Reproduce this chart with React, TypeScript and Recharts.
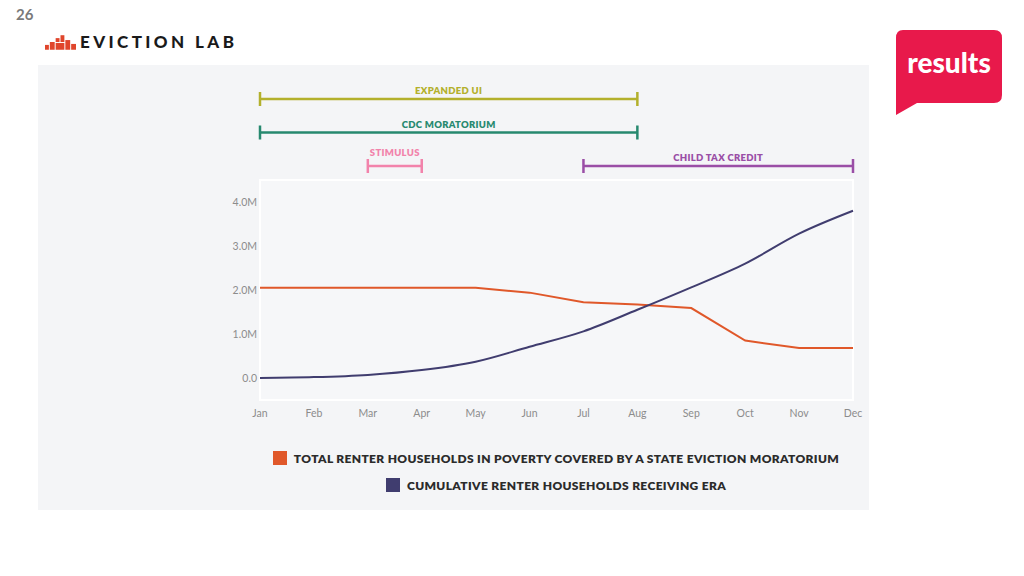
import React from 'react';
import {
  LineChart, Line, XAxis, YAxis, ReferenceArea,
} from 'recharts';

const MONTHS = ['Jan', 'Feb', 'Mar', 'Apr', 'May', 'Jun', 'Jul', 'Aug', 'Sep', 'Oct', 'Nov', 'Dec'];

// millions of households
const COVERED_BY_MORATORIUM = [2.05, 2.05, 2.05, 2.05, 2.05, 1.94, 1.72, 1.67, 1.59, 0.85, 0.68, 0.68];
const RECEIVING_ERA = [0.0, 0.02, 0.07, 0.18, 0.37, 0.71, 1.06, 1.55, 2.06, 2.6, 3.28, 3.8];

const Y_TICKS = [0, 1, 2, 3, 4];

const PROGRAMS = [
  { key: 'ui',      label: 'EXPANDED UI',      start: 'Jan', end: 'Aug', lane: 3, color: '#b3b02c' },
  { key: 'cdc',     label: 'CDC MORATORIUM',   start: 'Jan', end: 'Aug', lane: 2, color: '#27896f' },
  { key: 'stim',    label: 'STIMULUS',         start: 'Mar', end: 'Apr', lane: 1, color: '#f283ab' },
  { key: 'ctc',     label: 'CHILD TAX CREDIT', start: 'Jul', end: 'Dec', lane: 1, color: '#9a4ea6' },
];

// short bars get their title lifted clear of the end caps
const LABEL_LIFT: Record<string, number> = { stim: 5 };

const SERIES = [
  { key: 'covered', label: 'TOTAL RENTER HOUSEHOLDS IN POVERTY COVERED BY A STATE EVICTION MORATORIUM', color: '#e0582a' },
  { key: 'era',     label: 'CUMULATIVE RENTER HOUSEHOLDS RECEIVING ERA',                               color: '#403d6f' },
];

const FONT = 'Lato, "Open Sans", sans-serif';

const data = MONTHS.map((m, i) => {
  const row: Record<string, any> = {
    month: m,
    covered: COVERED_BY_MORATORIUM[i],
    era: RECEIVING_ERA[i],
  };
  PROGRAMS.forEach(p => {
    const s = MONTHS.indexOf(p.start);
    const e = MONTHS.indexOf(p.end);
    row[p.key] = i >= s && i <= e ? p.lane : null;
  });
  return row;
});

const fmtM = (v: number) => (v === 0 ? '0.0' : `${v.toFixed(1)}M`);

function EvictionLabLogo() {
  return (
    <div style={{ position: 'absolute', left: 45, top: 31, display: 'flex', alignItems: 'center' }}>
      <svg width={31} height={16} viewBox="0 0 32 16">
        <g fill="#e0452b">
          <rect x={0} y={11} width={4} height={5} />
          <rect x={5} y={8} width={5} height={8} />
          <rect x={11} y={4} width={4} height={4} />
          <rect x={11} y={9} width={9} height={7} />
          <rect x={16} y={1} width={4} height={7} />
          <rect x={21} y={6} width={5} height={10} />
          <rect x={27} y={10} width={5} height={6} />
        </g>
      </svg>
      <span style={{ marginLeft: 4, fontFamily: FONT, fontWeight: 900, fontSize: 17, letterSpacing: 3.4, color: '#1a1a1a' }}>
        EVICTION LAB
      </span>
    </div>
  );
}

function ResultsLogo() {
  return (
    <svg style={{ position: 'absolute', left: 895, top: 29 }} width={108} height={88} viewBox="0 0 108 88">
      <path d="M8 1 H99 Q107 1 107 9 V66 Q107 74 99 74 H22 L1 86 V9 Q1 1 8 1 Z" fill="#e8194b" />
      <text x={54} y={44} textAnchor="middle" fill="#fff" fontFamily={FONT} fontWeight={900} fontSize={28}>results</text>
    </svg>
  );
}

// end caps of a program bar, plus its title centred above the bar
function ProgramCap(props: any) {
  const { cx, cy, index, points, program } = props;
  const s = MONTHS.indexOf(program.start);
  const e = MONTHS.indexOf(program.end);
  if (index !== s && index !== e) return <g key={`${program.key}-${index}`} />;
  const midX = points && points[e] ? (points[s].x + points[e].x) / 2 : cx;
  const lift = LABEL_LIFT[program.key] ?? 0;
  return (
    <g key={`${program.key}-${index}`}>
      <line x1={cx} x2={cx} y1={cy - 7} y2={cy + 7} stroke={program.color} strokeWidth={2.5} />
      {index === s && (
        <text x={midX} y={cy - 5 - lift} textAnchor="middle" fill={program.color} fontFamily={FONT}
          fontWeight={800} fontSize={9.5} letterSpacing={0.3}>
          {program.label}
        </text>
      )}
    </g>
  );
}

function LegendBlock() {
  return (
    <div style={{ position: 'absolute', left: 0, top: 449, width: 1112, fontFamily: FONT }}>
      {SERIES.map(s => (
        <div key={s.key} style={{ display: 'flex', justifyContent: 'center', alignItems: 'center', height: 18, marginBottom: 9 }}>
          <span style={{ width: 14, height: 14, background: s.color, marginRight: 7 }} />
          <span style={{ fontWeight: 800, fontSize: 12, letterSpacing: 0.35, color: '#2b2b2b' }}>{s.label}</span>
        </div>
      ))}
    </div>
  );
}

export default function App() {
  return (
    <div style={{ position: 'absolute', left: 0, top: 0, width: 1024, height: 576, background: '#fff', overflow: 'hidden' }}>
      <div style={{ position: 'absolute', left: 16, top: 5, fontFamily: FONT, fontWeight: 700, fontSize: 15, color: '#7a7a7a' }}>26</div>
      <EvictionLabLogo />
      <ResultsLogo />

      <div style={{ position: 'absolute', left: 38, top: 65, width: 831, height: 445, background: '#f4f5f7' }} />

      {/* program timelines */}
      <div style={{ position: 'absolute', left: 200, top: 70 }}>
        <LineChart width={680} height={120} data={data} margin={{ top: 15.6, right: 27, bottom: 10.6, left: 60 }}
          style={{ overflow: 'visible' }}>
          <XAxis dataKey="month" hide />
          <YAxis domain={[0.6, 3.4]} type="number" hide />
          {PROGRAMS.map(p => (
            <Line key={p.key} type="linear" dataKey={p.key} stroke={p.color} strokeWidth={2.5}
              connectNulls={false} isAnimationActive={false}
              dot={(dp: any) => <ProgramCap key={`${p.key}-${dp.index}`} {...dp} program={p} />}
              activeDot={false} />
          ))}
        </LineChart>
      </div>

      {/* main chart */}
      <div style={{ position: 'absolute', left: 200, top: 170 }}>
        <LineChart width={680} height={260} data={data} margin={{ top: 10, right: 27, bottom: 0, left: 0 }}>
          <ReferenceArea x1="Jan" x2="Dec" y1={-0.5} y2={4.5} fill="#f6f7f9" fillOpacity={1} stroke="#ffffff" strokeWidth={2} />
          <XAxis dataKey="month" axisLine={false} tickLine={false} interval={0} tickMargin={4}
            tick={{ fontSize: 10.5, fill: '#8c8c8c', fontFamily: FONT }} height={30} />
          <YAxis width={60} domain={[-0.5, 4.5]} ticks={Y_TICKS} type="number" axisLine={false}
            tickLine={false} tickSize={0} tickMargin={3} tickFormatter={fmtM}
            tick={{ fontSize: 10.5, fill: '#8c8c8c', fontFamily: FONT }} />
          <Line type="linear" dataKey="covered" stroke={SERIES[0].color} strokeWidth={2} dot={false} isAnimationActive={false} />
          <Line type="monotone" dataKey="era" stroke={SERIES[1].color} strokeWidth={2} dot={false} isAnimationActive={false} />
        </LineChart>
      </div>

      <LegendBlock />
    </div>
  );
}
